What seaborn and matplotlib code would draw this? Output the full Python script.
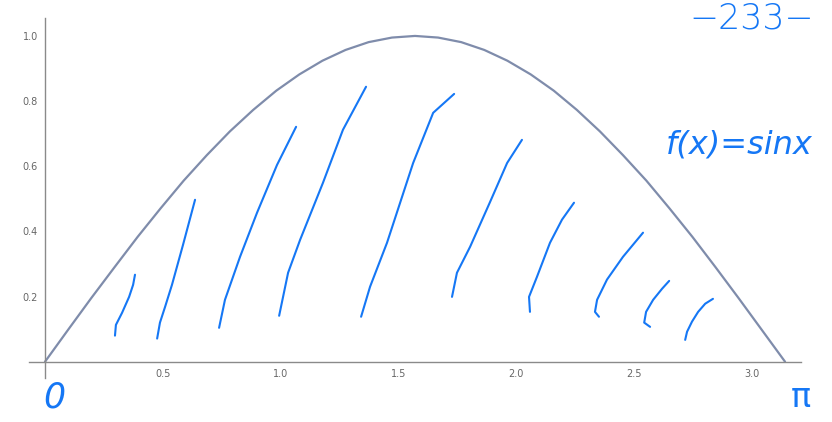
import matplotlib
matplotlib.use("Agg")
import matplotlib.pyplot as plt
from matplotlib.ticker import MultipleLocator, FixedLocator
import seaborn as sns

# sin(x) curve
curve_x = [0, 0.098, 0.196, 0.295, 0.393, 0.491, 0.589, 0.687, 0.785, 0.884, 0.982,
           1.080, 1.178, 1.276, 1.374, 1.473, 1.571, 1.669, 1.767, 1.865, 1.963,
           2.062, 2.160, 2.258, 2.356, 2.454, 2.553, 2.651, 2.749, 2.847, 2.945,
           3.043, 3.142]
curve_y = [0, 0.098, 0.195, 0.290, 0.383, 0.471, 0.556, 0.634, 0.707, 0.773, 0.832,
           0.882, 0.924, 0.957, 0.981, 0.995, 1.000, 0.995, 0.981, 0.957, 0.924,
           0.882, 0.832, 0.773, 0.707, 0.634, 0.556, 0.471, 0.383, 0.290, 0.195,
           0.098, 0]

# hand-drawn hatch strokes (data coordinates)
stroke_x = [
    [0.297, 0.301, 0.327, 0.357, 0.374, 0.382],
    [0.476, 0.488, 0.510, 0.539, 0.586, 0.637],
    [0.739, 0.764, 0.828, 0.900, 0.985, 1.066],
    [0.994, 1.032, 1.083, 1.180, 1.265, 1.363],
    [1.342, 1.380, 1.452, 1.563, 1.648, 1.737],
    [1.728, 1.749, 1.805, 1.890, 1.962, 2.025],
    [2.059, 2.055, 2.089, 2.144, 2.195, 2.246],
    [2.352, 2.335, 2.344, 2.386, 2.454, 2.539],
    [2.569, 2.544, 2.552, 2.582, 2.620, 2.650],
    [2.718, 2.726, 2.747, 2.773, 2.803, 2.836],
]
stroke_y = [
    [0.080, 0.113, 0.150, 0.199, 0.236, 0.267],
    [0.071, 0.120, 0.169, 0.236, 0.359, 0.497],
    [0.104, 0.190, 0.322, 0.457, 0.604, 0.721],
    [0.141, 0.273, 0.374, 0.549, 0.712, 0.844],
    [0.138, 0.230, 0.365, 0.610, 0.764, 0.822],
    [0.199, 0.273, 0.353, 0.491, 0.610, 0.681],
    [0.153, 0.199, 0.261, 0.365, 0.436, 0.488],
    [0.138, 0.153, 0.190, 0.252, 0.322, 0.396],
    [0.107, 0.120, 0.153, 0.190, 0.224, 0.248],
    [0.067, 0.092, 0.123, 0.153, 0.178, 0.193],
]

x_major = [0.5, 1.0, 1.5, 2.0, 2.5, 3.0]
x_labels = ["0.5", "1.0", "1.5", "2.0", "2.5", "3.0"]
y_major = [0.2, 0.4, 0.6, 0.8, 1.0]
y_labels = ["0.2", "0.4", "0.6", "0.8", "1.0"]

sns.set_style("white")
plt.rcParams['font.family'] = ['DejaVu Sans']

fig = plt.figure(figsize=(8.32, 4.22), dpi=100)
ax = fig.add_axes([0.0343, 0.1043, 0.9285, 0.853])

sns.lineplot(x=curve_x, y=curve_y, ax=ax, color="#7f8cab", linewidth=1.6,
             sort=False, estimator=None)

ink = "#1577f5"
for sx, sy in zip(stroke_x, stroke_y):
    sns.lineplot(x=sx, y=sy, ax=ax, color=ink, linewidth=1.5, sort=False,
                 estimator=None, solid_capstyle="round", solid_joinstyle="round")

ax.set_xlim(-0.07, 3.21)
ax.set_ylim(-0.05, 1.055)

for s in ["top", "right"]:
    ax.spines[s].set_visible(False)
for s in ["left", "bottom"]:
    ax.spines[s].set_position(("data", 0))
    ax.spines[s].set_color("#8a8a8a")
    ax.spines[s].set_linewidth(1.0)

ax.xaxis.set_major_locator(FixedLocator(x_major))
ax.set_xticklabels(x_labels)
ax.yaxis.set_major_locator(FixedLocator(y_major))
ax.set_yticklabels(y_labels)
ax.xaxis.set_minor_locator(MultipleLocator(0.1))
ax.yaxis.set_minor_locator(MultipleLocator(0.05))

ax.tick_params(axis="x", which="both", direction="in", colors="#8a8a8a",
               labelcolor="#666666", labelsize=7, pad=5)
ax.tick_params(axis="y", which="both", direction="in", colors="#8a8a8a",
               labelcolor="#666666", labelsize=7, pad=5)
ax.tick_params(which="major", length=4, width=0.9)
ax.tick_params(which="minor", length=2.5, width=0.8)

# handwritten annotations
ax.text(0.904, 0.957, "−233−", transform=fig.transFigure, ha="center", va="center",
        fontsize=25, color=ink, family="DejaVu Sans", fontweight="light")
ax.text(0.888, 0.656, "f(x)=sinx", transform=fig.transFigure, ha="center", va="center",
        fontsize=23, color=ink, fontstyle="italic", family="DejaVu Sans")
ax.text(0.065, 0.058, "0", transform=fig.transFigure, ha="center", va="center",
        fontsize=25, color=ink, fontstyle="italic", family="DejaVu Sans")
ax.text(0.962, 0.058, "π", transform=fig.transFigure, ha="center", va="center",
        fontsize=24, color=ink, family="DejaVu Sans")

fig.savefig("out.png", dpi=100)
